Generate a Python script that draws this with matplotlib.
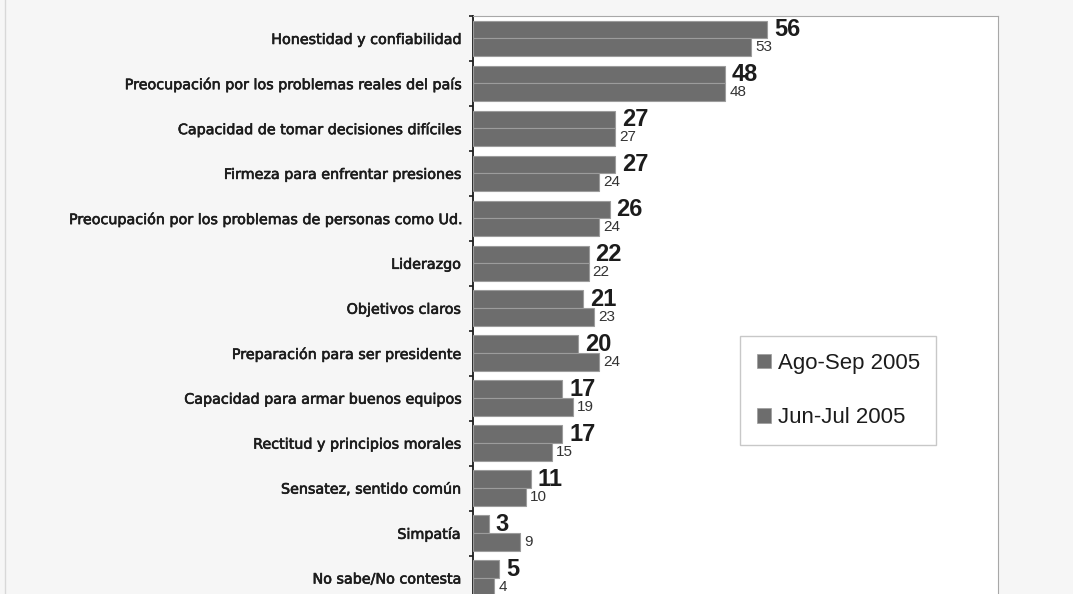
"""
Atributos valorados en un presidente: Ago-Sep 2005 vs Jun-Jul 2005.
Horizontal grouped bars, both series in the same grey; the newer value is
printed big and bold, the older one small underneath.
"""

import numpy as np
import matplotlib
matplotlib.use("Agg")
import matplotlib.pyplot as plt
import matplotlib.patches as mpatches
import matplotlib.patheffects as pe
from matplotlib.lines import Line2D

# ── Data ──────────────────────────────────────────────────────────────────────
categories = [
    "Honestidad y confiabilidad",
    "Preocupación por los problemas reales del país",
    "Capacidad de tomar decisiones difíciles",
    "Firmeza para enfrentar presiones",
    "Preocupación por los problemas de personas como Ud.",
    "Liderazgo",
    "Objetivos claros",
    "Preparación para ser presidente",
    "Capacidad para armar buenos equipos",
    "Rectitud y principios morales",
    "Sensatez, sentido común",
    "Simpatía",
    "No sabe/No contesta",
]
ago_sep = [56, 48, 27, 27, 26, 22, 21, 20, 17, 17, 11, 3, 5]
jun_jul = [53, 48, 27, 24, 24, 22, 23, 24, 19, 15, 10, 9, 4]
series_names = ["Ago-Sep 2005", "Jun-Jul 2005"]

# ── Style ─────────────────────────────────────────────────────────────────────
FIG_BG     = "#f6f6f6"
PANEL_BG   = "#ffffff"
BAR_COLOR  = "#6d6d6d"
BAR_EDGE   = "#9c9c9c"
FRAME      = "#a8a8a8"
TEXT_DARK  = "#1c1c1c"
NUM_FONT   = ["Liberation Sans", "DejaVu Sans"]

fig = plt.figure(figsize=(10.73, 5.94), dpi=100, facecolor=FIG_BG)
# plot panel runs a little past the bottom edge, as in the source screenshot
ax = fig.add_axes([473 / 1073, -6.5 / 594, 525 / 1073, 584.5 / 594])
ax.set_facecolor(PANEL_BG)

# faint outer border line on the left
fig.add_artist(Line2D([5 / 1073, 5 / 1073], [0, 1], transform=fig.transFigure,
                      color="#d8d8d8", linewidth=1))

y = np.arange(len(categories))
h = 0.395

bars_new = ax.barh(y - h / 2, ago_sep, height=h, color=BAR_COLOR,
                   edgecolor=BAR_EDGE, linewidth=0.8, zorder=3)
bars_old = ax.barh(y + h / 2, jun_jul, height=h, color=BAR_COLOR,
                   edgecolor=BAR_EDGE, linewidth=0.8, zorder=3)

# value labels
for b, v in zip(bars_new, ago_sep):
    ax.annotate(str(v), (b.get_width(), b.get_y() + b.get_height() / 2),
                xytext=(5, 0), textcoords="offset points",
                ha="left", va="center", fontsize=17, fontweight="bold",
                family=NUM_FONT, color=TEXT_DARK)
for b, v in zip(bars_old, jun_jul):
    ax.annotate(str(v), (b.get_width(), b.get_y() + b.get_height() / 2),
                xytext=(3, 0), textcoords="offset points",
                ha="left", va="center", fontsize=11,
                family=NUM_FONT, color="#333333")

# axes
ax.set_xlim(0, 100)
ax.set_ylim(len(categories) - 0.5, -0.5)
ax.set_yticks(y)
ax.set_yticklabels(categories, fontsize=10.3, color=TEXT_DARK,
                   family="DejaVu Sans")
for t in ax.get_yticklabels():
    # slightly heavier strokes, like the original's bitmap font
    t.set_path_effects([pe.withStroke(linewidth=0.45, foreground=TEXT_DARK)])
ax.set_yticks(np.arange(len(categories) + 1) - 0.5, minor=True)
ax.tick_params(axis="y", which="major", length=0, pad=9)
ax.tick_params(axis="y", which="minor", length=3, width=1.2,
               direction="out", color=TEXT_DARK)
ax.set_xticks([])

ax.spines["left"].set_color(TEXT_DARK)
ax.spines["left"].set_linewidth(1.3)
ax.spines["top"].set_color(FRAME)
ax.spines["right"].set_color(FRAME)
ax.spines["bottom"].set_visible(False)

# legend
handles = [mpatches.Patch(facecolor=BAR_COLOR, edgecolor=BAR_EDGE,
                          linewidth=0.5, label=n) for n in series_names]
leg = fig.legend(handles=handles, loc="upper left",
                 bbox_to_anchor=(740 / 1073, 1 - 336 / 594),
                 borderaxespad=0,
                 prop={"family": NUM_FONT, "size": 16},
                 handlelength=0.64, handleheight=0.64, handletextpad=0.3,
                 labelspacing=1.5, borderpad=0.75,
                 frameon=True, fancybox=False, framealpha=1,
                 edgecolor="#c8c8c8", facecolor="white")
leg.get_frame().set_linewidth(1)
for t in leg.get_texts():
    t.set_color(TEXT_DARK)

fig.savefig("out.png", dpi=100, facecolor=FIG_BG)
